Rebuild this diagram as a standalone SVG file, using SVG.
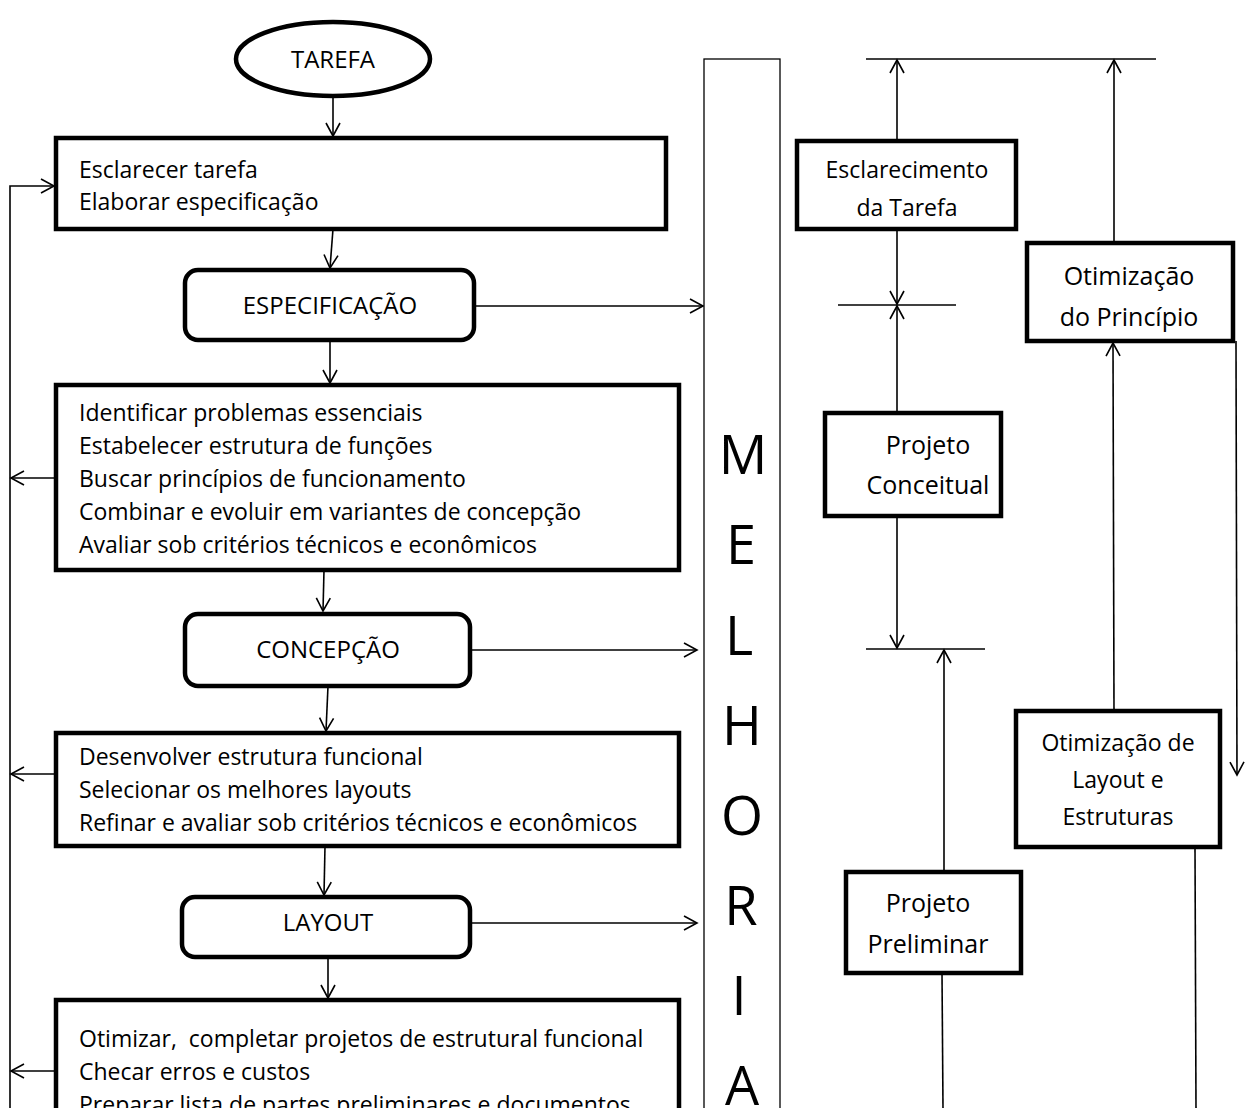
<svg xmlns="http://www.w3.org/2000/svg" width="1250" height="1108" viewBox="0 0 1250 1108">
<style>
.box{fill:#fff;stroke:#000;stroke-width:4.5}
.thin{fill:#fff;stroke:#000;stroke-width:1.3}
.ln{fill:none;stroke:#000;stroke-width:1.6}
text{font-family:"Open Sans","Noto Sans",sans-serif;fill:#000}
.t{font-size:23px}
.h{font-size:24px;text-anchor:middle}
.r{font-size:23px;text-anchor:middle}
.q{font-size:25px;text-anchor:middle}
.big{font-size:54px;text-anchor:middle}
</style>
<defs>
<marker id="a" markerUnits="userSpaceOnUse" markerWidth="16" markerHeight="18" refX="14" refY="8" orient="auto">
<path d="M1,1 L14,8 L1,15" fill="none" stroke="#000" stroke-width="1.6"/>
</marker>
</defs>
<g id="connectors">
<line class="ln" x1="333" y1="97" x2="333" y2="136" marker-end="url(#a)"/>
<line class="ln" x1="333" y1="229" x2="330" y2="268" marker-end="url(#a)"/>
<line class="ln" x1="474" y1="306" x2="703" y2="306" marker-end="url(#a)"/>
<line class="ln" x1="330" y1="340" x2="330" y2="383" marker-end="url(#a)"/>
<line class="ln" x1="324" y1="570" x2="323" y2="611" marker-end="url(#a)"/>
<line class="ln" x1="470" y1="650" x2="697" y2="650" marker-end="url(#a)"/>
<line class="ln" x1="328" y1="686" x2="326" y2="731" marker-end="url(#a)"/>
<line class="ln" x1="325" y1="846" x2="324" y2="895" marker-end="url(#a)"/>
<line class="ln" x1="470" y1="923" x2="697" y2="923" marker-end="url(#a)"/>
<line class="ln" x1="328" y1="957" x2="328" y2="998" marker-end="url(#a)"/>
<polyline class="ln" points="10,1108 10,186 54,186" marker-end="url(#a)"/>
<line class="ln" x1="56" y1="478" x2="11" y2="478" marker-end="url(#a)"/>
<line class="ln" x1="56" y1="774" x2="11" y2="774" marker-end="url(#a)"/>
<line class="ln" x1="56" y1="1071" x2="11" y2="1071" marker-end="url(#a)"/>
<line class="ln" x1="866" y1="59" x2="1156" y2="59"/>
<line class="ln" x1="897" y1="141" x2="897" y2="60" marker-end="url(#a)"/>
<line class="ln" x1="1114" y1="243" x2="1114" y2="60" marker-end="url(#a)"/>
<line class="ln" x1="897" y1="229" x2="897" y2="304" marker-end="url(#a)"/>
<line class="ln" x1="838" y1="305" x2="956" y2="305"/>
<line class="ln" x1="897" y1="413" x2="897" y2="306" marker-end="url(#a)"/>
<line class="ln" x1="897" y1="516" x2="897" y2="648" marker-end="url(#a)"/>
<line class="ln" x1="866" y1="649" x2="985" y2="649"/>
<line class="ln" x1="944" y1="872" x2="944" y2="650" marker-end="url(#a)"/>
<line class="ln" x1="942" y1="973" x2="943" y2="1108"/>
<line class="ln" x1="1114" y1="711" x2="1113" y2="343" marker-end="url(#a)"/>
<line class="ln" x1="1236" y1="341" x2="1237" y2="775" marker-end="url(#a)"/>
<line class="ln" x1="1195" y1="847" x2="1196" y2="1108"/>
</g>
<g id="tarefa">
<ellipse class="box" cx="333" cy="59" rx="97" ry="37"/>
<text class="h" x="333" y="68">TAREFA</text>
</g>
<g id="box1">
<rect class="box" x="56" y="138" width="610" height="91"/>
<text class="t" x="79" y="178">Esclarecer tarefa</text>
<text class="t" x="79" y="210">Elaborar especificação</text>
</g>
<g id="especificacao">
<rect class="box" x="185" y="270" width="289" height="70" rx="13"/>
<text class="h" x="330" y="314">ESPECIFICAÇÃO</text>
</g>
<g id="box2">
<rect class="box" x="56" y="385" width="623" height="185"/>
<text class="t" x="79" y="421">Identificar problemas essenciais</text>
<text class="t" x="79" y="454">Estabelecer estrutura de funções</text>
<text class="t" x="79" y="487">Buscar princípios de funcionamento</text>
<text class="t" x="79" y="520">Combinar e evoluir em variantes de concepção</text>
<text class="t" x="79" y="553">Avaliar sob critérios técnicos e econômicos</text>
</g>
<g id="concepcao">
<rect class="box" x="185" y="614" width="285" height="72" rx="13"/>
<text class="h" x="328" y="658">CONCEPÇÃO</text>
</g>
<g id="box3">
<rect class="box" x="56" y="733" width="623" height="113"/>
<text class="t" x="79" y="765">Desenvolver estrutura funcional</text>
<text class="t" x="79" y="798">Selecionar os melhores layouts</text>
<text class="t" x="79" y="831">Refinar e avaliar sob critérios técnicos e econômicos</text>
</g>
<g id="layout">
<rect class="box" x="182" y="897" width="288" height="60" rx="13"/>
<text class="h" x="328" y="931">LAYOUT</text>
</g>
<g id="box4">
<rect class="box" x="56" y="1000" width="623" height="130"/>
<text class="t" x="79" y="1047" style="white-space:pre">Otimizar,  completar projetos de estrutural funcional</text>
<text class="t" x="79" y="1080">Checar erros e custos</text>
<text class="t" x="79" y="1113">Preparar lista de partes preliminares e documentos</text>
</g>
<g id="melhoria">
<rect class="thin" x="704" y="59" width="76" height="1070"/>
<text class="big" x="743" y="474">M</text>
<text class="big" x="741" y="564">E</text>
<text class="big" x="739" y="655">L</text>
<text class="big" x="742" y="745">H</text>
<text class="big" x="742" y="835">O</text>
<text class="big" x="741" y="925">R</text>
<text class="big" x="739" y="1015">I</text>
<text class="big" x="742" y="1105">A</text>
</g>
<g id="esclarecimento">
<rect class="box" x="797" y="141" width="219" height="88"/>
<text class="r" x="907" y="178">Esclarecimento</text>
<text class="r" x="907" y="216">da Tarefa</text>
</g>
<g id="otim-principio">
<rect class="box" x="1027" y="243" width="206" height="98"/>
<text class="q" x="1129" y="285">Otimização</text>
<text class="q" x="1129" y="326">do Princípio</text>
</g>
<g id="conceitual">
<rect class="box" x="825" y="413" width="176" height="103"/>
<text class="q" x="928" y="454">Projeto</text>
<text class="q" x="928" y="494">Conceitual</text>
</g>
<g id="otim-layout">
<rect class="box" x="1016" y="711" width="204" height="136"/>
<text class="r" x="1118" y="751">Otimização de</text>
<text class="r" x="1118" y="788">Layout e</text>
<text class="r" x="1118" y="825">Estruturas</text>
</g>
<g id="preliminar">
<rect class="box" x="846" y="872" width="175" height="101"/>
<text class="q" x="928" y="912">Projeto</text>
<text class="q" x="928" y="953">Preliminar</text>
</g>
</svg>
